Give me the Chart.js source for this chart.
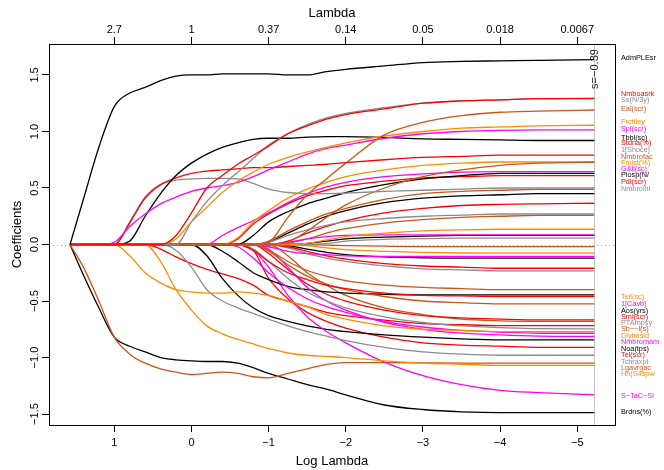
<!DOCTYPE html>
<html><head><meta charset="utf-8">
<script src="https://cdn.jsdelivr.net/npm/chart.js@4"></script>
<style>html,body{margin:0;padding:0;background:#fff}canvas{display:block}</style>
</head><body>
<canvas id="c" width="664" height="470"></canvas>
<script>
// ---- data ----
const logLambda = [1.574, 1.4, 1.2, 1.0, 0.8, 0.6, 0.4, 0.2, 0.0, -0.2, -0.4, -0.6, -0.8, -1.0, -1.25, -1.5, -1.75, -2.0, -2.5, -3.0, -3.5, -4.0, -4.5, -5.22];
const bottomTicks = [1, 0, -1, -2, -3, -4, -5];
const topTickLabels = ['2.7', '1', '0.37', '0.14', '0.05', '0.018', '0.0067'];
const yTicks = [-1.5, -1, -0.5, 0, 0.5, 1, 1.5];
const yTickLabels = ['\u22121.5', '\u22121.0', '\u22120.5', '0.0', '0.5', '1.0', '1.5'];
const selectedLogLambda = -5.22;
const selectedLabel = 's=\u22120.39';

const K = '#000000', R = '#FF0000', G = '#8C8C8C', O = '#CD5516', Y = '#FF8C00', M = '#FF00FF';

const cAdm  = [0, 0.40, 0.86, 1.22, 1.34, 1.39, 1.45, 1.49, 1.50, 1.50, 1.51, 1.51, 1.51, 1.51, 1.50, 1.50, 1.53, 1.55, 1.58, 1.61, 1.62, 1.625, 1.63, 1.635];
const cBrd  = [0, -0.27, -0.56, -0.82, -0.90, -0.95, -1.0, -1.02, -1.03, -1.035, -1.035, -1.05, -1.09, -1.14, -1.19, -1.24, -1.28, -1.33, -1.42, -1.46, -1.48, -1.487, -1.487, -1.487];
const cLga  = [0, -0.2, -0.5, -0.82, -0.97, -1.05, -1.1, -1.13, -1.15, -1.14, -1.13, -1.14, -1.17, -1.18, -1.14, -1.10, -1.06, -1.045, -1.045, -1.047, -1.05, -1.05, -1.05, -1.05];
const cTbb  = [0, 0, 0, 0, 0.03, 0.25, 0.45, 0.61, 0.72, 0.80, 0.86, 0.90, 0.93, 0.94, 0.94, 0.95, 0.955, 0.955, 0.947, 0.935, 0.93, 0.925, 0.92, 0.92];
const cStd  = [0, 0, 0, 0, 0.19, 0.41, 0.53, 0.59, 0.63, 0.65, 0.66, 0.67, 0.68, 0.68, 0.69, 0.70, 0.71, 0.725, 0.75, 0.77, 0.78, 0.79, 0.79, 0.79];
const cNlh  = [0, 0, 0, 0, 0.2, 0.42, 0.53, 0.57, 0.58, 0.585, 0.585, 0.58, 0.54, 0.49, 0.46, 0.45, 0.45, 0.455, 0.47, 0.48, 0.49, 0.50, 0.50, 0.50];
const cSpl  = [0, 0, 0, 0.02, 0.16, 0.27, 0.36, 0.42, 0.47, 0.50, 0.52, 0.55, 0.60, 0.66, 0.73, 0.80, 0.85, 0.88, 0.94, 0.98, 1.0, 1.01, 1.015, 1.015];
const cNmb  = [0, 0, 0, 0, 0, 0, 0, 0.08, 0.28, 0.5, 0.61, 0.71, 0.79, 0.87, 0.98, 1.05, 1.11, 1.15, 1.2, 1.25, 1.27, 1.28, 1.29, 1.29];
const cSsN  = [0, 0, 0, 0, 0, 0, 0, 0, 0.2, 0.38, 0.52, 0.64, 0.76, 0.88, 0.98, 1.06, 1.12, 1.16, 1.21, 1.25, 1.27, 1.28, 1.29, 1.295];
const cFrc  = [0, 0, 0, 0, 0, 0, 0, 0.05, 0.2, 0.33, 0.46, 0.56, 0.64, 0.71, 0.77, 0.82, 0.86, 0.9, 0.96, 1.0, 1.03, 1.04, 1.05, 1.055];
const cEal  = [0, 0, 0, 0, 0, 0, 0, 0, 0, 0, 0, 0, 0, 0.02, 0.24, 0.44, 0.58, 0.72, 0.97, 1.08, 1.14, 1.17, 1.18, 1.19];
const cDly  = [0, 0, 0, 0, -0.1, -0.25, -0.34, -0.4, -0.42, -0.43, -0.43, -0.42, -0.43, -0.45, -0.5, -0.55, -0.62, -0.66, -0.72, -0.75, -0.76, -0.77, -0.77, -0.77];
const cHhS  = [0, 0, 0, 0, 0, 0, -0.15, -0.4, -0.58, -0.72, -0.79, -0.84, -0.88, -0.92, -0.96, -0.98, -0.99, -1.0, -1.03, -1.05, -1.06, -1.07, -1.07, -1.07];
const cTch  = [0, 0, 0, 0, 0, 0, 0, -0.05, -0.2, -0.4, -0.5, -0.56, -0.61, -0.66, -0.72, -0.77, -0.81, -0.85, -0.91, -0.95, -0.97, -0.98, -0.98, -0.98];
const cSml  = [0, 0, 0, 0, 0, 0, -0.04, -0.11, -0.17, -0.22, -0.26, -0.30, -0.36, -0.45, -0.5, -0.55, -0.6, -0.63, -0.67, -0.70, -0.71, -0.717, -0.717, -0.717];
const cNoa  = [0, 0, 0, 0, 0, 0, 0, 0, 0, -0.1, -0.3, -0.45, -0.56, -0.63, -0.68, -0.72, -0.75, -0.77, -0.80, -0.82, -0.835, -0.844, -0.844, -0.844];
const cAos  = [0, 0, 0, 0, 0, 0, 0, 0, 0, 0, -0.06, -0.15, -0.25, -0.31, -0.37, -0.40, -0.42, -0.43, -0.44, -0.445, -0.445, -0.445, -0.445, -0.445];
const cTel  = [0, 0, 0, 0, 0, 0, 0, 0, 0, 0, 0, 0, -0.05, -0.3, -0.48, -0.6, -0.68, -0.74, -0.82, -0.87, -0.89, -0.9, -0.91, -0.91];
const cSTa  = [0, 0, 0, 0, 0, 0, 0, 0, 0, 0, 0, 0, -0.05, -0.2, -0.45, -0.64, -0.77, -0.87, -1.04, -1.16, -1.24, -1.29, -1.31, -1.33];
const cGll  = [0, 0, 0, 0, 0, 0, 0, 0, 0, 0, 0.08, 0.15, 0.21, 0.28, 0.37, 0.45, 0.51, 0.55, 0.6, 0.625, 0.64, 0.645, 0.645, 0.645];
const cPdl  = [0, 0, 0, 0, 0, 0, 0, 0, 0, 0, 0, 0.05, 0.18, 0.27, 0.36, 0.43, 0.48, 0.52, 0.56, 0.59, 0.6, 0.61, 0.61, 0.61];
const cFmi  = [0, 0, 0, 0, 0, 0, 0, 0, 0, 0, 0, 0.06, 0.2, 0.3, 0.41, 0.49, 0.55, 0.6, 0.66, 0.7, 0.72, 0.73, 0.73, 0.73];
const cPio  = [0, 0, 0, 0, 0, 0, 0, 0, 0, 0, 0, 0, 0.08, 0.2, 0.29, 0.36, 0.41, 0.46, 0.53, 0.58, 0.61, 0.63, 0.63, 0.63];
const cK45  = [0, 0, 0, 0, 0, 0, 0, 0, 0, 0, 0, 0, 0, 0.02, 0.1, 0.18, 0.25, 0.3, 0.37, 0.41, 0.43, 0.44, 0.45, 0.45];
const cR365 = [0, 0, 0, 0, 0, 0, 0, 0, 0, 0, 0, 0, 0, 0, 0.03, 0.1, 0.16, 0.21, 0.28, 0.32, 0.345, 0.355, 0.36, 0.365];
const cNbf  = [0, 0, 0, 0, 0, 0, 0, 0, 0, 0, 0, 0, 0, 0, 0.02, 0.12, 0.24, 0.35, 0.5, 0.6, 0.66, 0.7, 0.72, 0.73];
const cG27  = [0, 0, 0, 0, 0, 0, 0, 0, 0, 0, 0, 0, 0, 0.02, 0.08, 0.13, 0.17, 0.2, 0.23, 0.25, 0.26, 0.27, 0.27, 0.27];
const cO487 = [0, 0, 0, 0, 0, 0, 0, 0, 0, 0, 0, 0, 0, 0.03, 0.12, 0.2, 0.27, 0.32, 0.4, 0.45, 0.47, 0.48, 0.487, 0.487];
const cY135 = [0, 0, 0, 0, 0, 0, 0, 0, 0, 0, 0, 0, 0, 0, 0, 0.01, 0.04, 0.07, 0.1, 0.12, 0.13, 0.135, 0.135, 0.135];
const cK08  = [0, 0, 0, 0, 0, 0, 0, 0, 0, 0, 0, 0, 0, 0, 0, 0.01, 0.03, 0.05, 0.065, 0.075, 0.08, 0.08, 0.08, 0.08];
const cM085 = [0, 0, 0, 0, 0, 0, 0, 0, 0, 0, 0, 0, 0, 0, 0.02, 0.05, 0.07, 0.08, 0.085, 0.085, 0.085, 0.085, 0.085, 0.085];
const cG056 = [0, 0, 0, 0, 0, 0, 0, 0, 0, 0, 0, 0, 0, 0, 0, 0, 0.01, 0.03, 0.045, 0.052, 0.056, 0.056, 0.056, 0.056];
const cO018 = [0, 0, 0, 0, 0, 0, 0, 0, 0, 0, 0, 0, 0, 0, 0, 0, -0.005, -0.01, -0.015, -0.018, -0.018, -0.018, -0.018, -0.018];
const cY077 = [0, 0, 0, 0, 0, 0, 0, 0, 0, 0, 0, 0, 0, 0, 0, -0.01, -0.03, -0.045, -0.06, -0.07, -0.075, -0.077, -0.077, -0.077];
const cK121 = [0, 0, 0, 0, 0, 0, 0, 0, 0, 0, 0, 0, 0, 0, -0.01, -0.04, -0.07, -0.09, -0.11, -0.117, -0.121, -0.121, -0.121, -0.121];
const cM106 = [0, 0, 0, 0, 0, 0, 0, 0, 0, 0, 0, 0, 0, -0.02, -0.06, -0.08, -0.09, -0.1, -0.106, -0.106, -0.106, -0.106, -0.106, -0.106];
const cR21  = [0, 0, 0, 0, 0, 0, 0, 0, 0, 0, 0, 0, 0, 0, -0.02, -0.06, -0.1, -0.13, -0.17, -0.19, -0.2, -0.21, -0.21, -0.21];
const cG233 = [0, 0, 0, 0, 0, 0, 0, 0, 0, 0, 0, 0, 0, 0, -0.03, -0.08, -0.12, -0.15, -0.19, -0.215, -0.225, -0.233, -0.233, -0.233];
const cO40  = [0, 0, 0, 0, 0, 0, 0, 0, 0, 0, 0, 0, 0, -0.05, -0.15, -0.23, -0.28, -0.32, -0.36, -0.38, -0.39, -0.40, -0.40, -0.40];
const cR46  = [0, 0, 0, 0, 0, 0, 0, 0, 0, 0, 0, 0, -0.05, -0.15, -0.25, -0.31, -0.36, -0.39, -0.43, -0.45, -0.455, -0.46, -0.46, -0.46];
const cO525 = [0, 0, 0, 0, 0, 0, 0, 0, 0, 0, 0, 0, 0, -0.06, -0.18, -0.28, -0.35, -0.4, -0.46, -0.5, -0.515, -0.525, -0.525, -0.525];
const cR667 = [0, 0, 0, 0, 0, 0, 0, 0, 0, 0, 0, 0, 0, -0.08, -0.22, -0.35, -0.44, -0.5, -0.58, -0.63, -0.65, -0.66, -0.667, -0.667];
const cO68  = [0, 0, 0, 0, 0, 0, 0, 0, 0, 0, 0, 0, 0, 0, -0.1, -0.25, -0.36, -0.45, -0.56, -0.62, -0.66, -0.675, -0.68, -0.68];
const cG746 = [0, 0, 0, 0, 0, 0, 0, 0, 0, 0, 0, 0, -0.04, -0.15, -0.3, -0.42, -0.5, -0.56, -0.64, -0.69, -0.72, -0.735, -0.745, -0.746];
const cM785 = [0, 0, 0, 0, 0, 0, 0, 0, 0, 0, 0, -0.02, -0.12, -0.25, -0.38, -0.48, -0.55, -0.6, -0.68, -0.73, -0.76, -0.775, -0.785, -0.785];
const cM814 = [0, 0, 0, 0, 0, 0, 0, 0, 0, 0, 0, 0, 0, -0.04, -0.2, -0.38, -0.5, -0.58, -0.69, -0.75, -0.785, -0.8, -0.81, -0.814];
const cO257 = [0, 0, 0, 0, 0, 0, 0, 0, 0, 0, 0, 0, 0, 0, 0.01, 0.05, 0.1, 0.14, 0.19, 0.22, 0.24, 0.25, 0.257, 0.257];

const paths = [
  [K, cAdm], [R, cNmb], [G, cSsN], [O, cEal], [Y, cFrc], [M, cSpl],
  [K, cTbb], [R, cStd], [G, cNlh], [O, cNbf], [Y, cFmi], [M, cGll],
  [K, cPio], [R, cPdl], [G, cG27], [O, cO487], [Y, cY135], [M, cM085],
  [K, cK45], [R, cR365], [G, cG056], [O, cO018], [Y, cY077], [M, cM106],
  [K, cK08], [R, cR21], [G, cG233], [O, cO40], [Y, cDly], [M, cM785],
  [K, cK121], [R, cR46], [G, cG746], [O, cO525], [Y, cHhS], [M, cM814],
  [K, cAos], [R, cR667], [G, cTch], [O, cO68], [M, cSTa], [O, cO257],
  [K, cNoa], [R, cSml], [R, cTel], [O, cLga], [K, cBrd]
];

const labelNames = ['AdmPLEsr','Nmboasrk','Ss(N/3y)','Eal(scr)','Frcttley','Spl(scr)','Tbbl(sc)','Stdna(%)','1[Shoce]','Nmbrofac','Fmist(%)','G&ll(sc)','Piosp(N/','Pdl(scr)','Nmbrolhi',
  'Tell(sc)','1[Cavb]','Aos(yrs)','Sml(scr)','PTAmpsy','Sb\u2212\u2212l(s)','Dlytmsid','Nmbromam','Noa(tps)','Tel(scr)','Tchraxpl','Lgavrgac','Hh(S4spw','S\u2212TaC\u2212Sl','Brdns(%)'];
const labelValues = [1.65, 1.332, 1.279, 1.199, 1.084, 1.022, 0.945, 0.898, 0.836, 0.777, 0.724, 0.668, 0.615, 0.556, 0.488,
  -0.462, -0.527, -0.586, -0.644, -0.697, -0.75, -0.807, -0.865, -0.925, -0.978, -1.037, -1.096, -1.149, -1.338, -1.485];
const labelColors = [K, R, G, O, Y, M, K, R, G, O, Y, M, K, R, G,
  Y, M, K, R, G, O, Y, M, K, R, G, O, Y, M, K];

// ---- chart ----
const FONT = "'Liberation Sans', Arial, Helvetica, sans-serif";
const xMin = -5.489, xMax = 1.846, yMin = -1.597, yMax = 1.774;
const fmtMinus = v => (v < 0 ? '\u2212' + Math.abs(v) : String(v));

const deco = {
  id: 'deco',
  beforeDatasetsDraw(chart) {
    const { ctx, chartArea: a, scales: { x, y } } = chart;
    ctx.save();
    const y0 = Math.round(y.getPixelForValue(0)) + 0.5;
    ctx.strokeStyle = '#b4b4b4'; ctx.lineWidth = 1; ctx.setLineDash([1, 3]);
    ctx.beginPath(); ctx.moveTo(a.left, y0); ctx.lineTo(a.right, y0); ctx.stroke();
    ctx.setLineDash([]);
    const xs = Math.round(x.getPixelForValue(selectedLogLambda)) + 0.5;
    ctx.strokeStyle = '#c4c4c4';
    ctx.beginPath(); ctx.moveTo(xs, a.top); ctx.lineTo(xs, a.bottom); ctx.stroke();
    ctx.restore();
  },
  afterDatasetsDraw(chart) {
    const { ctx, chartArea: a, scales: { x, y } } = chart;
    ctx.save();
    ctx.strokeStyle = '#000'; ctx.lineWidth = 1;
    const L = Math.round(a.left) + 0.5, T = Math.round(a.top) + 0.5, Rr = Math.round(a.right) + 0.5, B = Math.round(a.bottom) + 0.5;
    ctx.strokeRect(L, T, Rr - L, B - T);
    const xs = x.getPixelForValue(selectedLogLambda);
    ctx.fillStyle = '#222'; ctx.font = '11px ' + FONT;
    ctx.textAlign = 'center'; ctx.textBaseline = 'middle';
    ctx.save(); ctx.translate(xs + 0.5, 69); ctx.rotate(-Math.PI / 2); ctx.fillText(selectedLabel, 0, 0); ctx.restore();
    ctx.fillStyle = '#000'; ctx.font = '11px ' + FONT;
    yTicks.forEach((v, i) => {
      ctx.save(); ctx.translate(35, y.getPixelForValue(v)); ctx.rotate(-Math.PI / 2);
      ctx.fillText(yTickLabels[i], 0, 0); ctx.restore();
    });
    ctx.font = '13px ' + FONT;
    const cx = (a.left + a.right) / 2, cy = (a.top + a.bottom) / 2;
    ctx.fillText('Lambda', cx, 13);
    ctx.fillText('Log Lambda', cx, 461);
    ctx.save(); ctx.translate(17, cy); ctx.rotate(-Math.PI / 2); ctx.fillText('Coefficients', 0, 0); ctx.restore();
    ctx.font = '7.3px ' + FONT; ctx.textAlign = 'left';
    labelNames.forEach((n, i) => {
      ctx.fillStyle = labelColors[i];
      ctx.fillText(n, 621, y.getPixelForValue(labelValues[i]));
    });
    ctx.restore();
  }
};

const datasets = paths.map(([col, vals]) => ({
  data: logLambda.map((lx, i) => ({ x: lx, y: vals[i] })),
  borderColor: col, borderWidth: 1.3, pointRadius: 0, fill: false,
  cubicInterpolationMode: 'monotone'
}));

const tickCommon = { font: { size: 11, family: FONT }, color: '#000', maxRotation: 0, autoSkip: false };
const gridCommon = { drawOnChartArea: false, drawTicks: true, tickLength: 7, color: '#000', lineWidth: 1 };

new Chart(document.getElementById('c'), {
  type: 'line',
  data: { datasets },
  plugins: [deco],
  options: {
    responsive: false, animation: false, devicePixelRatio: 1,
    layout: { padding: { left: 0, right: 49, top: 0, bottom: 0 } },
    plugins: { legend: { display: false }, tooltip: { enabled: false } },
    scales: {
      x: {
        type: 'linear', position: 'bottom', reverse: true, min: xMin, max: xMax,
        afterBuildTicks: s => { s.ticks = bottomTicks.map(v => ({ value: v })); },
        afterFit: s => { s.height = 45; },
        ticks: Object.assign({}, tickCommon, { padding: 4, callback: v => fmtMinus(v) }),
        grid: gridCommon, border: { display: false }
      },
      xTop: {
        type: 'linear', position: 'top', reverse: true, min: xMin, max: xMax,
        afterBuildTicks: s => { s.ticks = bottomTicks.map(v => ({ value: v })); },
        afterFit: s => { s.height = 44; },
        ticks: Object.assign({}, tickCommon, { padding: 0, callback: v => topTickLabels[bottomTicks.indexOf(v)] }),
        grid: gridCommon, border: { display: false }
      },
      y: {
        type: 'linear', position: 'left', min: yMin, max: yMax,
        afterBuildTicks: s => { s.ticks = yTicks.map(v => ({ value: v })); },
        afterFit: s => { s.width = 49; },
        ticks: { display: false },
        grid: gridCommon, border: { display: false }
      }
    }
  }
});
</script>
</body></html>
